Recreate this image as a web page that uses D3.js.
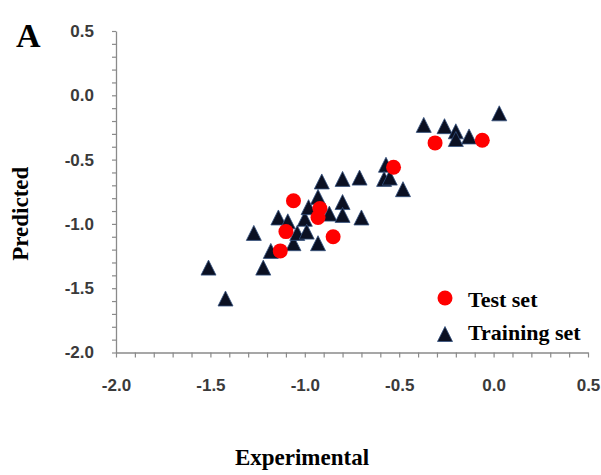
<!DOCTYPE html>
<html>
<head>
<meta charset="utf-8">
<script src="https://cdn.jsdelivr.net/npm/d3@7/dist/d3.min.js"></script>
<style>
  html, body { margin: 0; padding: 0; background: #fff; }
  svg { display: block; }
</style>
</head>
<body>
<svg id="chart" width="601" height="475"></svg>
<script>
// ---- Data ----
const testX = [-1.06, -1.10, -1.13, -0.92, -0.93, -0.85, -0.53, -0.31, -0.06];
const testY = [-0.82, -1.06, -1.21, -0.88, -0.95, -1.10, -0.56, -0.37, -0.35];

const trainX = [-1.51, -1.42, -1.27, -1.22, -1.18, -1.14, -1.09, -1.06, -1.04, -1.00,
                -0.99, -0.98, -0.93, -0.93, -0.91, -0.87, -0.80, -0.80, -0.80, -0.71,
                -0.70, -0.57, -0.58, -0.55, -0.48, -0.37, -0.26, -0.20, -0.20, -0.13, 0.03];
const trainY = [-1.34, -1.58, -1.07, -1.34, -1.21, -0.95, -0.98, -1.15, -1.07, -0.96,
                -1.06, -0.87, -0.79, -1.15, -0.67, -0.92, -0.65, -0.83, -0.93, -0.64,
                -0.95, -0.54, -0.65, -0.64, -0.73, -0.23, -0.24, -0.28, -0.34, -0.32, -0.14];

const majorTicks = [-2.0, -1.5, -1.0, -0.5, 0.0, 0.5];
const minorStep = 0.1;
const seriesNames = ["Test set", "Training set"];
const panelLabel = "A";
const xTitle = "Experimental";
const yTitle = "Predicted";

// ---- Layout ----
const svg = d3.select("#chart");
const x = d3.scaleLinear().domain([-2, 0.5]).range([116, 588]);
const y = d3.scaleLinear().domain([-2, 0.5]).range([352.5, 31]);

const allTicks = d3.range(0, 26).map(i => Math.round((-2 + i * minorStep) * 10) / 10);
const isMajor = v => majorTicks.some(m => Math.abs(m - v) < 1e-9);
const fmt = v => isMajor(v) ? (Math.abs(v) < 1e-9 ? 0 : v).toFixed(1) : "";

const axisColor = "#8a8a8a";
const labelFont = "'Liberation Sans', Arial, sans-serif";
const serif = "'Liberation Serif', 'Times New Roman', serif";

// x axis
const gx = svg.append("g")
  .attr("transform", `translate(0,${y(-2)})`)
  .call(d3.axisBottom(x).tickValues(allTicks).tickSize(5).tickSizeOuter(0).tickPadding(21).tickFormat(fmt));
// y axis
const gy = svg.append("g")
  .attr("transform", `translate(${x(-2)},0)`)
  .call(d3.axisLeft(y).tickValues(allTicks).tickSize(4).tickSizeOuter(0).tickPadding(18).tickFormat(fmt));

[gx, gy].forEach(g => {
  g.select(".domain").attr("stroke", axisColor).attr("stroke-width", 1.3);
  g.selectAll(".tick line").attr("stroke", axisColor).attr("stroke-width", 1.2);
  g.selectAll(".tick text")
    .attr("fill", "#3a3a3a")
    .style("font-family", labelFont)
    .style("font-size", "17px")
    .style("font-weight", "bold");
});

// axis titles
svg.append("text")
  .attr("x", 302).attr("y", 465)
  .attr("text-anchor", "middle")
  .style("font-family", serif).style("font-weight", "bold").style("font-size", "23px")
  .text(xTitle);

svg.append("text")
  .attr("transform", `translate(28,${(y(-2) + y(0.5)) / 2 + 22}) rotate(-90)`)
  .attr("text-anchor", "middle")
  .style("font-family", serif).style("font-weight", "bold").style("font-size", "23px")
  .text(yTitle);

svg.append("text")
  .attr("x", 16).attr("y", 47)
  .style("font-family", serif).style("font-weight", "bold").style("font-size", "34px")
  .text(panelLabel);

// markers
const triW = 15, triH = 15;
const triPath = `M0,${-triH / 2}L${triW / 2},${triH / 2}L${-triW / 2},${triH / 2}Z`;
const triFill = "#0b1022", triStroke = "#34507f";
const circR = 7.5, circFill = "#ff0000";

const trainData = trainX.map((v, i) => ({ x: v, y: trainY[i] }));
const testData = testX.map((v, i) => ({ x: v, y: testY[i] }));

svg.append("g").selectAll("path").data(trainData).join("path")
  .attr("d", triPath)
  .attr("transform", d => `translate(${x(d.x)},${y(d.y)})`)
  .attr("fill", triFill).attr("stroke", triStroke).attr("stroke-width", 0.8);

svg.append("g").selectAll("circle").data(testData).join("circle")
  .attr("cx", d => x(d.x)).attr("cy", d => y(d.y)).attr("r", circR)
  .attr("fill", circFill);

// legend
const lg = svg.append("g");
lg.append("circle").attr("cx", 445).attr("cy", 298).attr("r", circR).attr("fill", circFill);
lg.append("path").attr("d", triPath).attr("transform", "translate(445,334)")
  .attr("fill", triFill).attr("stroke", triStroke).attr("stroke-width", 0.8);
lg.selectAll("text").data(seriesNames).join("text")
  .attr("x", 468).attr("y", (d, i) => i === 0 ? 307 : 340)
  .style("font-family", serif).style("font-weight", "bold").style("font-size", "22px")
  .text(d => d);
</script>
</body>
</html>
